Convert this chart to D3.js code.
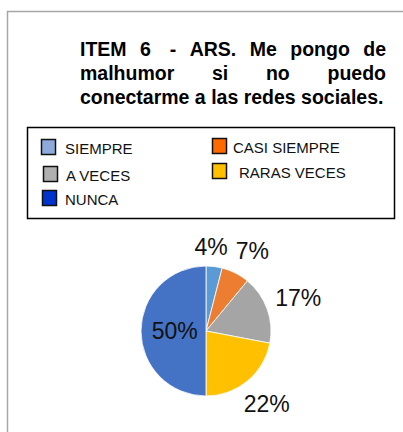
<!DOCTYPE html>
<html><head><meta charset="utf-8">
<script src="https://cdn.jsdelivr.net/npm/d3@7"></script>
<style>body{margin:0;background:#fff}svg{display:block}</style>
</head><body>
<script>
const categories = ["SIEMPRE", "CASI SIEMPRE", "A VECES", "RARAS VECES", "NUNCA"];
const values = [4, 7, 17, 22, 50];
const sliceColors = ["#5B9BD5", "#ED7D31", "#A5A5A5", "#FFC000", "#4472C4"];
const legendColors = ["#8EAADB", "#FF6A00", "#B0B0B0", "#FFC000", "#0033CC"];
const titleLines = [["ITEM", "6", "\u00a0-", "ARS.", "Me", "pongo", "de"], ["malhumor", "si", "no", "puedo"], ["conectarme", "a", "las", "redes", "sociales."]];

const W = 403, H = 432;
const FONT = "Liberation Sans, Arial, sans-serif";
const svg = d3.select("body").append("svg").attr("width", W).attr("height", H);

// frame
svg.append("path").attr("d", `M7.5,${H} V11.5 H${W}`).attr("fill", "none").attr("stroke", "#A6A6A6").attr("stroke-width", 1.5);

// title (justified)
const tx0 = 80, tx1 = 386, ty = [56, 80, 104];
titleLines.forEach((words, li) => {
  const g = svg.append("g");
  const ts = words.map(w => g.append("text").text(w).attr("y", ty[li])
    .attr("font-family", FONT).attr("font-weight", "bold")
    .attr("font-size", 19.5).attr("fill", "#000"));
  const widths = ts.map(t => t.node().getComputedTextLength());
  const total = d3.sum(widths);
  let gap = (tx1 - tx0 - total) / (words.length - 1);
  if (li === titleLines.length - 1) gap = Math.min(gap, 5.4);
  let x = tx0;
  ts.forEach((t, i) => { t.attr("x", x); x += widths[i] + gap; });
});

// legend
svg.append("rect").attr("x", 27.5).attr("y", 127.5).attr("width", 367).attr("height", 91)
  .attr("fill", "#fff").attr("stroke", "#000").attr("stroke-width", 1.5);
const legendPos = [[41, 139], [212, 138], [43, 166], [212, 163], [42, 190]];
const textOff = [24, 21, 23, 27, 23];
categories.forEach((c, i) => {
  const [x, y] = legendPos[i];
  svg.append("rect").attr("x", x + 0.5).attr("y", y + 0.5).attr("width", 14).attr("height", 15)
    .attr("fill", legendColors[i]).attr("stroke", "#111").attr("stroke-width", 1.5);
  svg.append("text").attr("x", x + textOff[i]).attr("y", y + 15).text(c)
    .attr("font-family", FONT).attr("font-size", 15).attr("fill", "#111");
});

// pie
const cx = 206, cy = 331, R = 65;
const pie = d3.pie().sort(null).value(d => d)(values);
const arc = d3.arc().innerRadius(0).outerRadius(R);
const gp = svg.append("g").attr("transform", `translate(${cx},${cy})`);
gp.selectAll("path").data(pie).join("path").attr("d", arc)
  .attr("fill", (d, i) => sliceColors[i]).attr("stroke", "#fff").attr("stroke-width", 0.8);

const labels = pie.map((d, i) => {
  const a = (d.startAngle + d.endAngle) / 2;
  const ux = Math.sin(a), uy = -Math.cos(a);
  const t = gp.append("text").text(values[i] + "%")
    .attr("font-family", FONT).attr("font-size", 23)
    .attr("fill", "#111").attr("text-anchor", "middle").attr("dominant-baseline", "central");
  const w = t.node().getComputedTextLength(), h = 20;
  let dist;
  if (values[i] >= 40) dist = R * 0.48;
  else dist = R + 8 + Math.abs(ux) * w / 2 + Math.abs(uy) * h / 2;
  return { t, x: ux * dist, y: uy * dist, w, h };
});
// simple horizontal collision avoidance between neighbouring labels
for (let i = 0; i < labels.length - 1; i++) {
  const a = labels[i], b = labels[i + 1];
  if (Math.abs(a.y - b.y) < (a.h + b.h) / 2) {
    const need = (a.w + b.w) / 2 + 8 - (b.x - a.x);
    if (need > 0) { a.x -= need / 2; b.x += need / 2; }
  }
}
labels.forEach(l => l.t.attr("x", l.x).attr("y", l.y));
</script>
</body></html>
